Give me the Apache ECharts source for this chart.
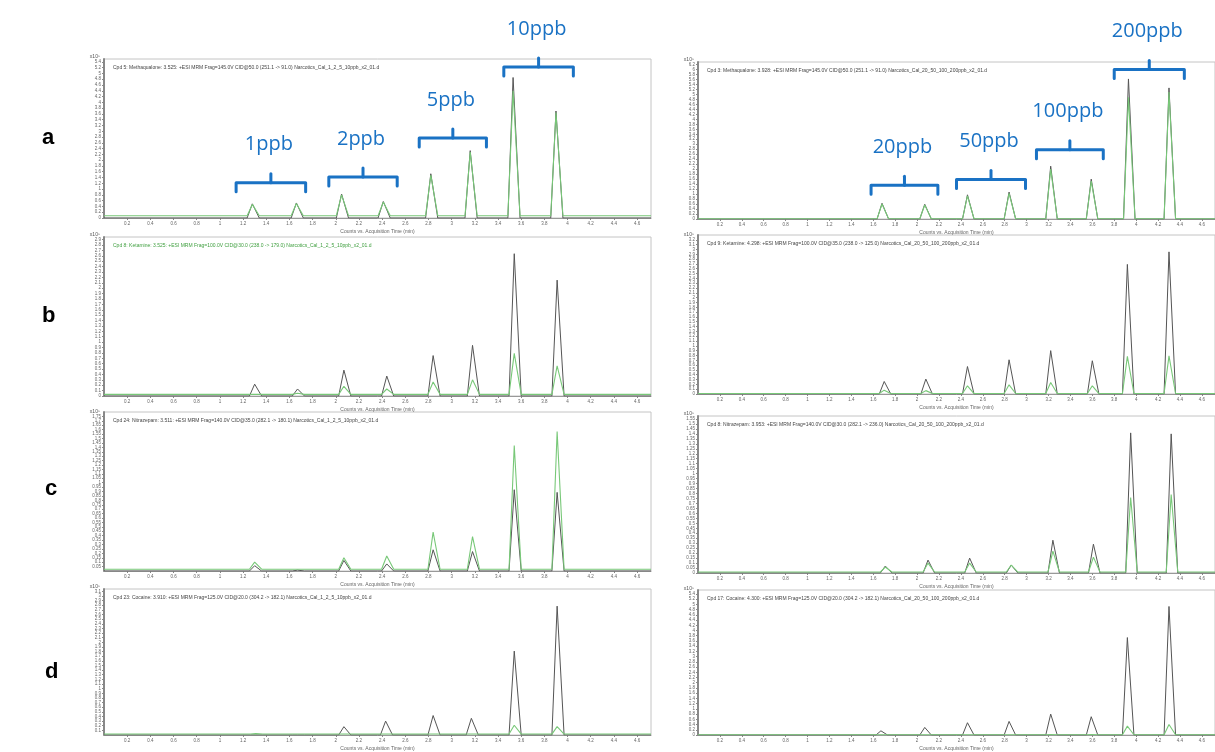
<!DOCTYPE html>
<html>
<head>
<meta charset="utf-8">
<script src="https://cdn.jsdelivr.net/npm/echarts@6/dist/echarts.min.js"></script>
<style>
html,body{margin:0;padding:0;background:#fff;}
#chart{width:1215px;height:752px;}
</style>
</head>
<body>
<div id="chart"></div>
<script>
// ---------- DATA ----------
// retention times (min) of the 8 peaks in each panel
var timesLa = [1.28, 1.66, 2.05, 2.41, 2.82, 3.16, 3.53, 3.90];
var greyLa  = [0.49, 0.52, 0.83, 0.57, 1.53, 2.33, 4.86, 3.70];
var greenLa = [0.47, 0.50, 0.80, 0.55, 1.48, 2.28, 4.40, 3.65];

var timesLb = [1.30, 1.67, 2.07, 2.44, 2.84, 3.18, 3.54, 3.91];
var greyLb  = [0.22, 0.13, 0.48, 0.37, 0.75, 0.94, 2.64, 2.15];
var greenLb = [0.03, 0.05, 0.18, 0.13, 0.26, 0.30, 0.79, 0.56];

var timesLc = [1.30, 1.67, 2.07, 2.44, 2.84, 3.18, 3.54, 3.91];
var greyLc  = [0.06, 0.01, 0.12, 0.08, 0.24, 0.22, 0.92, 0.89];
var greenLc = [0.10, 0.02, 0.15, 0.17, 0.44, 0.39, 1.42, 1.58];

var timesLd = [1.31, 1.67, 2.07, 2.43, 2.84, 3.17, 3.54, 3.91];
var greyLd  = [0.00, 0.00, 0.18, 0.30, 0.42, 0.36, 1.81, 2.78];
var greenLd = [0.03, 0.02, 0.00, 0.00, 0.02, 0.02, 0.21, 0.18];

var timesRa = [1.68, 2.07, 2.46, 2.84, 3.22, 3.59, 3.93, 4.30];
var greyRa  = [0.63, 0.59, 0.97, 1.08, 2.12, 1.60, 5.62, 5.26];
var greenRa = [0.60, 0.56, 0.93, 1.03, 2.00, 1.52, 4.88, 5.10];

var timesRb = [1.70, 2.08, 2.46, 2.84, 3.22, 3.60, 3.92, 4.30];
var greyRb  = [0.26, 0.31, 0.57, 0.71, 0.90, 0.69, 2.69, 2.95];
var greenRb = [0.08, 0.07, 0.17, 0.19, 0.24, 0.17, 0.78, 0.79];

var timesRc = [1.71, 2.10, 2.48, 2.86, 3.24, 3.61, 3.95, 4.32];
var greyRc  = [0.07, 0.13, 0.15, 0.08, 0.33, 0.29, 1.41, 1.40];
var greenRc = [0.06, 0.10, 0.10, 0.08, 0.22, 0.16, 0.76, 0.79];

var timesRd = [1.67, 2.07, 2.46, 2.84, 3.22, 3.59, 3.92, 4.30];
var greyRd  = [0.16, 0.29, 0.47, 0.52, 0.80, 0.70, 3.73, 4.92];
var greenRd = [0.01, 0.01, 0.01, 0.01, 0.02, 0.02, 0.34, 0.40];

// baseline of the qualifier (green) trace per panel
var greenBaseLeft  = [0.08, 0.03, 0.02, 0.02];
var greenBaseRight = [0.01, 0.01, 0.01, 0.01];

// y-axis extents and tick steps
var yMaxLeft  = [5.5, 2.95, 1.8, 3.15];
var yStepLeft = [0.2, 0.1, 0.05, 0.1];
var yMaxRight  = [6.3, 3.3, 1.58, 5.55];
var yStepRight = [0.2, 0.1, 0.05, 0.2];
var xMax = 4.72, xStep = 0.2;

// panel titles
var titlesLeft = [
  'Cpd 5: Methaqualone: 3.525: +ESI MRM Frag=145.0V CID@50.0 (251.1 -> 91.0) Narcotics_Cal_1_2_5_10ppb_x2_01.d',
  'Cpd 8: Ketamine: 3.525: +ESI MRM Frag=100.0V CID@30.0 (238.0 -> 179.0) Narcotics_Cal_1_2_5_10ppb_x2_01.d',
  'Cpd 24: Nitrazepam: 3.511: +ESI MRM Frag=140.0V CID@35.0 (282.1 -> 180.1) Narcotics_Cal_1_2_5_10ppb_x2_01.d',
  'Cpd 23: Cocaine: 3.910: +ESI MRM Frag=125.0V CID@20.0 (304.2 -> 182.1) Narcotics_Cal_1_2_5_10ppb_x2_01.d'
];
var titlesRight = [
  'Cpd 3: Methaqualone: 3.928: +ESI MRM Frag=145.0V CID@50.0 (251.1 -> 91.0) Narcotics_Cal_20_50_100_200ppb_x2_01.d',
  'Cpd 9: Ketamine: 4.298: +ESI MRM Frag=100.0V CID@35.0 (238.0 -> 125.0) Narcotics_Cal_20_50_100_200ppb_x2_01.d',
  'Cpd 8: Nitrazepam: 3.953: +ESI MRM Frag=140.0V CID@30.0 (282.1 -> 236.0) Narcotics_Cal_20_50_100_200ppb_x2_01.d',
  'Cpd 17: Cocaine: 4.300: +ESI MRM Frag=125.0V CID@20.0 (304.2 -> 182.1) Narcotics_Cal_20_50_100_200ppb_x2_01.d'
];
var rowLetters = ['a', 'b', 'c', 'd'];
var axisUnit = 'x10\u2075';
var xAxisTitle = 'Counts vs. Acquisition Time (min)';

// concentration annotations (bracket start/end time, bracket level in panel units)
var annoLabelsLeft = ['1ppb', '2ppb', '5ppb', '10ppb'];
var annoStartLeft  = [1.14, 1.94, 2.72, 3.45];
var annoEndLeft    = [1.74, 2.53, 3.30, 4.05];
var annoLevelLeft  = [1.22, 1.42, 2.77, 5.22];
var annoLabelsRight = ['20ppb', '50ppb', '100ppb', '200ppb'];
var annoStartRight  = [1.58, 2.36, 3.09, 3.80];
var annoEndRight    = [2.19, 2.99, 3.70, 4.44];
var annoLevelRight  = [1.35, 1.59, 2.78, 6.00];

// ---------- LAYOUT ----------
var leftGrids  = [[104, 59, 547, 159], [104, 237, 547, 159], [104, 412, 547, 159], [104, 589, 547, 160]];
var rightGrids = [[698, 62, 526, 157], [698, 235, 526, 159], [698, 416, 526, 157], [698, 590, 526, 159]];
var letterPos  = [[37, 122], [37, 300], [40, 473], [40, 656]];
var LEAD = 0.045, TAIL = 0.06;
var BLUE = '#1a72c4';

function trace(times, heights, base) {
  var pts = [[0, base]];
  for (var i = 0; i < times.length; i++) {
    var h = Math.max(heights[i], base);
    pts.push([times[i] - LEAD, base], [times[i], h], [times[i] + TAIL, base]);
  }
  pts.push([xMax, base]);
  return pts;
}

var panels = [
  {g: leftGrids[0], t: timesLa, grey: greyLa, green: greenLa, base: greenBaseLeft[0], ymax: yMaxLeft[0], ystep: yStepLeft[0], title: titlesLeft[0], tc: '#444'},
  {g: leftGrids[1], t: timesLb, grey: greyLb, green: greenLb, base: greenBaseLeft[1], ymax: yMaxLeft[1], ystep: yStepLeft[1], title: titlesLeft[1], tc: '#3f9f3f'},
  {g: leftGrids[2], t: timesLc, grey: greyLc, green: greenLc, base: greenBaseLeft[2], ymax: yMaxLeft[2], ystep: yStepLeft[2], title: titlesLeft[2], tc: '#444'},
  {g: leftGrids[3], t: timesLd, grey: greyLd, green: greenLd, base: greenBaseLeft[3], ymax: yMaxLeft[3], ystep: yStepLeft[3], title: titlesLeft[3], tc: '#444'},
  {g: rightGrids[0], t: timesRa, grey: greyRa, green: greenRa, base: greenBaseRight[0], ymax: yMaxRight[0], ystep: yStepRight[0], title: titlesRight[0], tc: '#444'},
  {g: rightGrids[1], t: timesRb, grey: greyRb, green: greenRb, base: greenBaseRight[1], ymax: yMaxRight[1], ystep: yStepRight[1], title: titlesRight[1], tc: '#444'},
  {g: rightGrids[2], t: timesRc, grey: greyRc, green: greenRc, base: greenBaseRight[2], ymax: yMaxRight[2], ystep: yStepRight[2], title: titlesRight[2], tc: '#444'},
  {g: rightGrids[3], t: timesRd, grey: greyRd, green: greenRd, base: greenBaseRight[3], ymax: yMaxRight[3], ystep: yStepRight[3], title: titlesRight[3], tc: '#444'}
];

var grid = [], xAxis = [], yAxis = [], series = [], title = [];
panels.forEach(function (p, i) {
  grid.push({left: p.g[0], top: p.g[1], width: p.g[2], height: p.g[3], show: true,
    borderColor: '#c4c4c4', borderWidth: 1, backgroundColor: '#fff'});
  xAxis.push({gridIndex: i, type: 'value', min: 0, max: xMax, interval: xStep,
    name: xAxisTitle, nameLocation: 'middle', nameGap: 11,
    nameTextStyle: {fontSize: 5, color: '#666', fontFamily: 'Liberation Sans'},
    axisLine: {lineStyle: {color: '#999', width: 1}},
    axisTick: {length: 2, lineStyle: {color: '#888'}},
    axisLabel: {fontSize: 4.5, color: '#666', margin: 3, showMinLabel: false, showMaxLabel: false, fontFamily: 'Liberation Sans'},
    splitLine: {show: false}});
  yAxis.push({gridIndex: i, type: 'value', min: 0, max: p.ymax, interval: p.ystep,
    name: axisUnit, nameLocation: 'end', nameGap: -4,
    nameTextStyle: {fontSize: 5, color: '#555', align: 'right', padding: [0, 4, 0, 0], fontFamily: 'Liberation Sans'},
    axisLine: {show: true, lineStyle: {color: '#888', width: 2}},
    axisTick: {show: true, length: 2, lineStyle: {color: '#888'}},
    axisLabel: {fontSize: 4.5, color: '#666', margin: 3, interval: 0, showMaxLabel: false, hideOverlap: false, fontFamily: 'Liberation Sans'},
    splitLine: {show: false}});
  series.push({type: 'line', xAxisIndex: i, yAxisIndex: i, data: trace(p.t, p.grey, 0),
    showSymbol: false, symbol: 'none', lineStyle: {color: '#555', width: 1}, z: 2, silent: true});
  series.push({type: 'line', xAxisIndex: i, yAxisIndex: i, data: trace(p.t, p.green, p.base),
    showSymbol: false, symbol: 'none', lineStyle: {color: '#78c878', width: 1.1}, z: 3, silent: true});
  title.push({text: p.title, left: p.g[0] + 4, top: p.g[1] + 1,
    textStyle: {fontSize: 5, fontWeight: 'normal', color: p.tc, fontFamily: 'Liberation Sans'}});
});

rowLetters.forEach(function (l, i) {
  title.push({text: l, left: letterPos[i][0], top: letterPos[i][1],
    textStyle: {fontSize: 22, fontWeight: 'bold', color: '#000', fontFamily: 'Liberation Sans'}});
});

function bracketSeries(gi, labels, starts, ends, levels) {
  var data = labels.map(function (l, k) { return [starts[k], ends[k], levels[k]]; });
  return {
    type: 'custom', xAxisIndex: gi, yAxisIndex: gi, clip: false, silent: true, z: 10,
    data: data,
    encode: {x: [0, 1], y: 2},
    renderItem: function (params, api) {
      var a = api.coord([api.value(0), api.value(2)]);
      var b = api.coord([api.value(1), api.value(2)]);
      var mid = (a[0] + b[0]) / 2;
      var st = {stroke: BLUE, lineWidth: 3, fill: null, lineJoin: 'round', lineCap: 'round'};
      return {type: 'group', children: [
        {type: 'polyline', shape: {points: [[a[0], a[1] + 9], [a[0], a[1]], [b[0], b[1]], [b[0], b[1] + 9]]}, style: st},
        {type: 'line', shape: {x1: mid, y1: a[1], x2: mid, y2: a[1] - 9}, style: st},
        {type: 'text', style: {text: labels[params.dataIndex], x: mid - 2, y: a[1] - 38,
          align: 'center', verticalAlign: 'middle', fill: BLUE, fontSize: 20, fontFamily: 'Open Sans'}}
      ]};
    }
  };
}
series.push(bracketSeries(0, annoLabelsLeft, annoStartLeft, annoEndLeft, annoLevelLeft));
series.push(bracketSeries(4, annoLabelsRight, annoStartRight, annoEndRight, annoLevelRight));

var chart = echarts.init(document.getElementById('chart'), null, {renderer: 'canvas'});
chart.setOption({animation: false, backgroundColor: '#fff', title: title, grid: grid, xAxis: xAxis, yAxis: yAxis, series: series});
</script>
</body>
</html>
